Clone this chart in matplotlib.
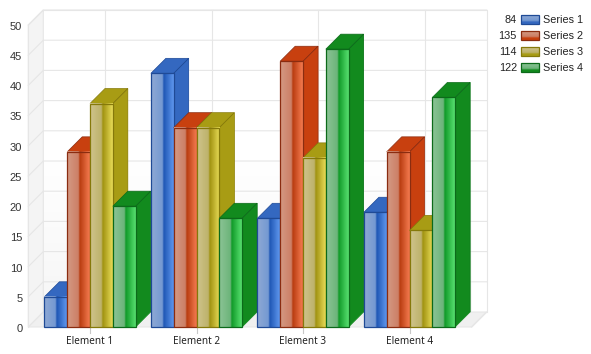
import matplotlib
matplotlib.use('Agg')
import matplotlib.pyplot as plt
import numpy as np
from matplotlib.colors import LinearSegmentedColormap
from matplotlib.patches import Polygon, Rectangle

categories = ['Element 1', 'Element 2', 'Element 3', 'Element 4']
series_names = ['Series 1', 'Series 2', 'Series 3', 'Series 4']
series_1 = [5, 42, 18, 19]
series_2 = [29, 33, 44, 29]
series_3 = [37, 33, 28, 16]
series_4 = [20, 18, 46, 38]
all_series = [series_1, series_2, series_3, series_4]
totals = [84, 135, 114, 122]
y_ticks = [0, 5, 10, 15, 20, 25, 30, 35, 40, 45, 50]

# edge, side/top, pale left, pale middle, dark middle, bright right
palette = [
    ('#1f4a96', '#3468c0', '#8fa9d4', '#7499d2', '#1f57b5', '#5f97ee'),
    ('#8a2c10', '#c8400f', '#d49a84', '#cc7f66', '#b83c10', '#f57b50'),
    ('#85790a', '#a89c14', '#cfc48c', '#bdb26a', '#a09210', '#e8dc58'),
    ('#0c6a1a', '#128a1e', '#8cc496', '#6cb47a', '#109a28', '#58e070'),
]

W, H = 591, 354
left, right, bottom, top = 28.3, 471.7, 327.0, 25.0
depth = 15.0
plt.rcParams['font.family'] = ['Noto Sans', 'DejaVu Sans']

fig = plt.figure(figsize=(W / 100, H / 100), dpi=100, facecolor='white')
ax = fig.add_axes([left / W, 1 - bottom / H, (right - left) / W, (bottom - top) / H])
ax.set_xlim((left - 90) / 106.5, (right - 90) / 106.5)
ax.set_ylim(0, 50)
ax.axis('off')

sx = (ax.get_xlim()[1] - ax.get_xlim()[0]) / (right - left)
sy = 50 / (bottom - top)
dx, dy = depth * sx, depth * sy
x0, x1 = ax.get_xlim()
grid = '#e6e6e6'

# back wall, left wall and floor
wall = LinearSegmentedColormap.from_list('wall', ['#ffffff', '#ffffff', '#f6f6f6'])
ax.imshow(np.linspace(0, 1, 100)[:, None], cmap=wall, aspect='auto', zorder=0,
          extent=(x0 + dx, x1 + dx, dy, 50 + dy), origin='upper')
ax.set_xlim(x0, x1)
ax.set_ylim(0, 50)
ax.add_patch(Polygon([(x0, 0), (x0 + dx, dy), (x0 + dx, 50 + dy), (x0, 50)],
                     fc='#f4f4f4', ec=grid, lw=0.8, zorder=1, clip_on=False))
ax.add_patch(Polygon([(x0, 0), (x1, 0), (x1 + dx, dy), (x0 + dx, dy)],
                     fc='#f0f0f0', ec=grid, lw=0.8, zorder=1, clip_on=False))
ax.plot([x0 + dx, x1 + dx, x1 + dx], [50 + dy, 50 + dy, dy], color=grid, lw=0.8, zorder=1, clip_on=False)
ax.plot([x1, x1 + dx], [0, dy], color=grid, lw=0.8, zorder=1, clip_on=False)

for v in y_ticks[1:]:
    ax.plot([x0, x0 + dx, x1 + dx], [v, v + dy, v + dy], color=grid, lw=0.8, zorder=1, clip_on=False)
for i in range(len(categories)):
    ax.plot([i + dx, i + dx], [dy, 50 + dy], color=grid, lw=0.8, zorder=1, clip_on=False)
    ax.plot([i, i], [0, -6 * sy], color='#c8c8c8', lw=0.8, zorder=1, clip_on=False)
    ax.text(i, -15 * sy, categories[i], ha='center', va='center', fontsize=7.2, color='#222222')
ax.plot([x0, x0], [0, 50], color=grid, lw=0.8, zorder=1, clip_on=False)
for v in y_ticks:
    ax.text(x0 - 6 * sx, v - 1.9 * sy, str(v), ha='right', va='center', fontsize=8, color='#333333',
            family='Liberation Sans')

# bars, painted left to right so each hides the side of the one before
bar_w = 22.8 * sx
z = 2
for c in range(len(categories)):
    for s, values in enumerate(all_series):
        edge, side, pale1, pale2, dark, bright = palette[s]
        v = values[c]
        a = c + (s - 2) * bar_w
        b = a + bar_w
        ax.add_patch(Polygon([(b, 0), (b + dx, dy), (b + dx, v + dy), (b, v)],
                             fc=side, ec=side, lw=0.5, zorder=z, clip_on=False))
        ax.add_patch(Polygon([(a, v), (a + dx, v + dy), (b + dx, v + dy), (b, v)],
                             fc=side, ec=edge, lw=0.5, zorder=z, clip_on=False))
        ax.plot([b, b + dx, b + dx], [v, v + dy, dy], color=edge, lw=0.35, zorder=z, clip_on=False)
        cmap = LinearSegmentedColormap.from_list('bar', [(0, pale1), (0.5, pale2), (0.56, dark), (1, bright)])
        ax.imshow(np.linspace(0, 1, 64)[None, :], cmap=cmap, aspect='auto', zorder=z + 0.1,
                  extent=(a, b, 0, v), interpolation='bilinear', clip_on=False)
        ax.add_patch(Rectangle((a, 0), bar_w, v, fc='none', ec=edge, lw=0.9, zorder=z + 0.2, clip_on=False))
        z += 1
ax.set_xlim(x0, x1)
ax.set_ylim(0, 50)

# legend
lax = fig.add_axes([0, 0, 1, 1], facecolor='none')
lax.set_xlim(0, W)
lax.set_ylim(H, 0)
lax.axis('off')
for s, name in enumerate(series_names):
    edge, side, pale1, pale2, dark, bright = palette[s]
    y = 19.7 + s * 16
    lax.text(517, y, str(totals[s]), ha='right', va='center', fontsize=7.8, color='#222222',
             family='Liberation Sans')
    cmap = LinearSegmentedColormap.from_list('leg', [(0, pale1), (0.6, pale2), (0.8, side), (1, side)])
    lax.imshow(np.linspace(0, 1, 16)[:, None], cmap=cmap, aspect='auto', extent=(520.5, 538.5, y + 4.5, y - 4.5), zorder=2)
    lax.add_patch(Rectangle((520.5, y - 4.5), 18, 9, fc='none', ec=edge, lw=0.9, zorder=3))
    lax.text(543.3, y, name, ha='left', va='center', fontsize=7.8, color='#222222',
             family='Liberation Sans')
lax.set_xlim(0, W)
lax.set_ylim(H, 0)

fig.savefig('out.png', dpi=100)
